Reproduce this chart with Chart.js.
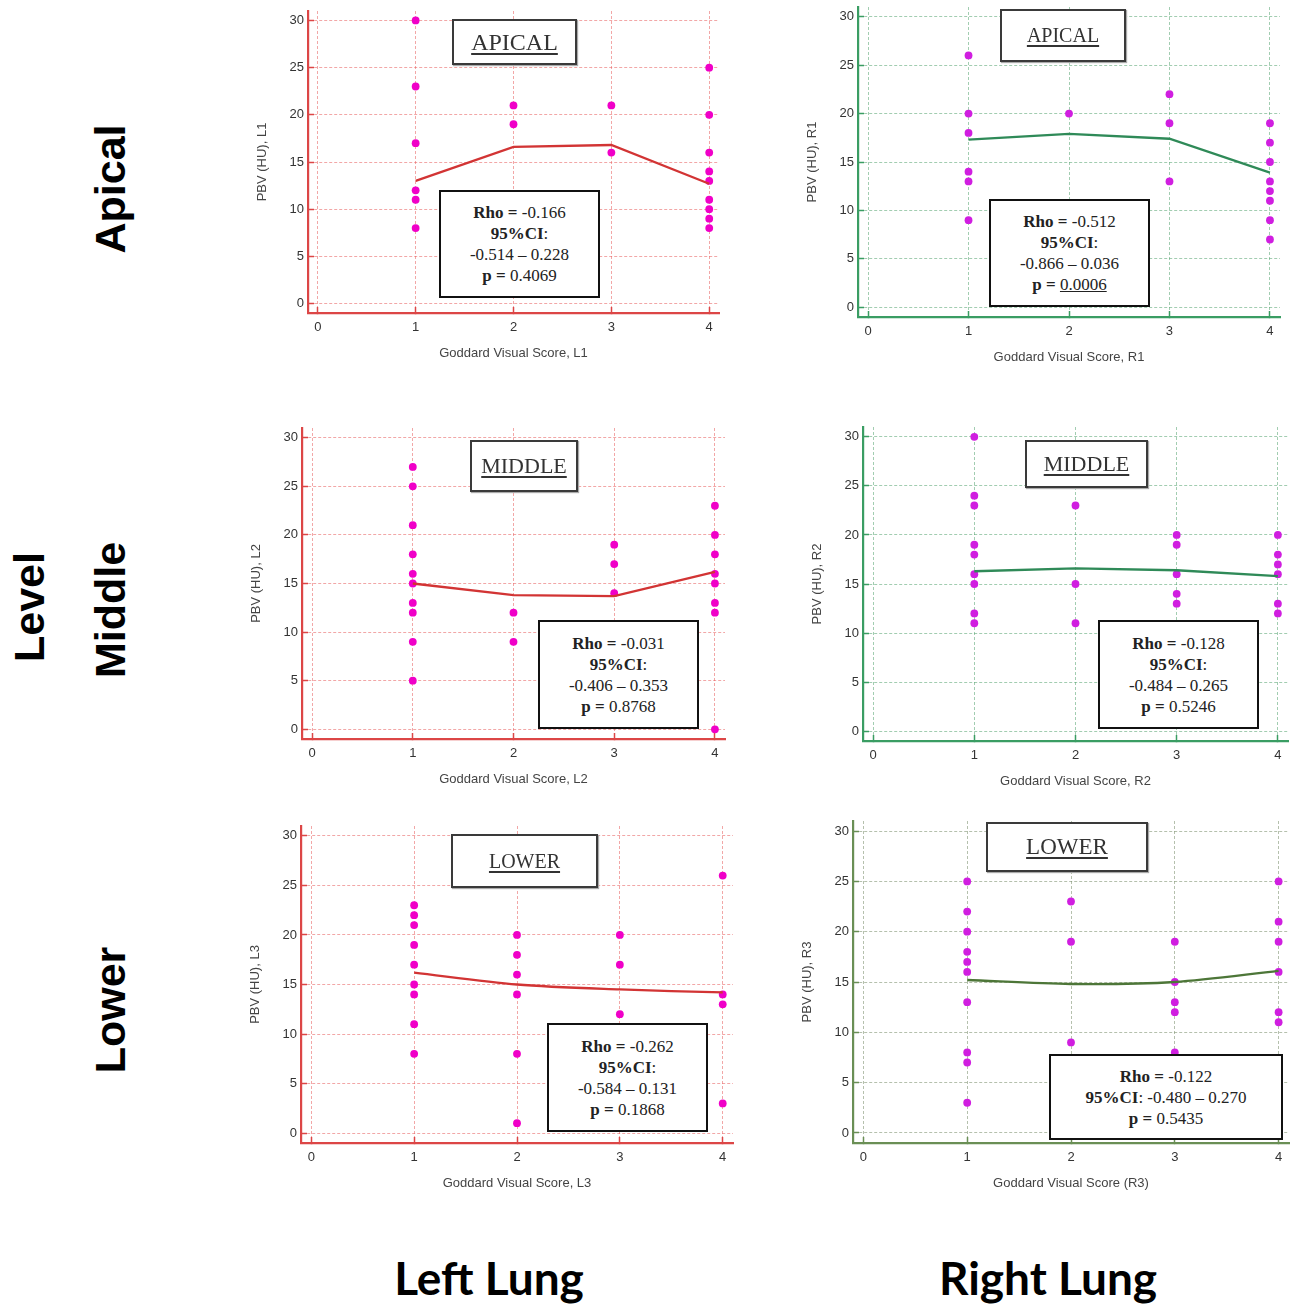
<!DOCTYPE html>
<html>
<head>
<meta charset="utf-8">
<title>PBV vs Goddard score</title>
<script src="https://cdn.jsdelivr.net/npm/chart.js@4.4.1/dist/chart.umd.min.js"></script>
<style>
    body { margin: 0; background: #fff; width: 1290px; height: 1305px; position: relative; overflow: hidden; }
    canvas { position: absolute; }
    .title-box {
        position: absolute; box-sizing: border-box; background: #fff;
        border: 2px solid #3a3a3a; box-shadow: 1px 1px 1px #aaa;
        font-family: 'Liberation Serif', 'Times New Roman', serif; color: #333;
        text-decoration: underline; text-underline-offset: 3px;
        display: flex; align-items: center; justify-content: center;
    }
    .stats-box {
        position: absolute; box-sizing: border-box; background: #fff;
        border: 2.5px solid #111;
        font-family: 'Liberation Serif', 'Times New Roman', serif; font-size: 17px; line-height: 21px; color: #222;
        display: flex; flex-direction: column; align-items: center; justify-content: center;
    }
    .side {
        position: absolute; font-family: 'Liberation Sans', Arial, sans-serif; font-weight: bold; font-size: 43px;
        white-space: nowrap; transform: translate(-50%, -50%) rotate(-90deg); color: #000;
    }
    .lung {
        position: absolute; font-family: Lato, 'Open Sans', sans-serif; font-weight: bold; font-size: 46px;
        white-space: nowrap; transform: translate(-50%, -50%); color: #000;
    }
</style>
</head>
<body>
<div class="side" style="left:110px; top:189px;">Apical</div>
<div class="side" style="left:110px; top:610px;">Middle</div>
<div class="side" style="left:110px; top:1010px;">Lower</div>
<div class="side" style="left:29px; top:607px;">Level</div>
<div class="lung" style="left:489px; top:1277px;">Left Lung</div>
<div class="lung" style="left:1048px; top:1277px;">Right Lung</div>

<script>
// Goddard score categories and axis ticks
const scores = [1, 2, 3, 4];
const xTicks = [0, 1, 2, 3, 4];
const yTicks = [0, 5, 10, 15, 20, 25, 30];

// PBV values per score (index 0 = score 1 ... index 3 = score 4)
const apicalLeft = [[30, 23, 17, 12, 11, 8], [21, 19], [21, 16], [25, 20, 16, 14, 13, 11, 10, 9, 8]];
const apicalLeftFit = [13.0, 16.6, 16.8, 12.7];
const apicalRight = [[26, 20, 18, 14, 13, 9], [20], [22, 19, 13], [19, 17, 15, 13, 12, 11, 9, 7]];
const apicalRightFit = [17.3, 17.9, 17.4, 13.9];

const middleLeft = [[27, 25, 21, 18, 16, 15, 13, 12, 9, 5], [12, 9], [19, 17, 14], [23, 20, 18, 16, 15, 13, 12, 0]];
const middleLeftFit = [15.0, 13.8, 13.7, 16.2];
const middleRight = [[30, 24, 23, 19, 18, 16, 15, 12, 11], [23, 15, 11], [20, 19, 16, 14, 13], [20, 18, 17, 16, 13, 12]];
const middleRightFit = [16.3, 16.6, 16.4, 15.8];

const lowerLeft = [[23, 22, 21, 19, 17, 15, 14, 11, 8], [20, 18, 16, 14, 8, 1], [20, 17, 12], [26, 14, 13, 3]];
const lowerLeftFit = [16.2, 15.0, 14.5, 14.2];
const lowerRight = [[25, 22, 20, 18, 17, 16, 13, 8, 7, 3], [23, 19, 9], [19, 15, 13, 12, 8], [25, 21, 19, 16, 12, 11]];
const lowerRightFit = [15.2, 14.8, 15.0, 16.1];

// rho, 95% CI, p
const apicalLeftStats = ['-0.166', '-0.514 \u2013 0.228', '0.4069'];
const apicalRightStats = ['-0.512', '-0.866 \u2013 0.036', '0.0006'];
const middleLeftStats = ['-0.031', '-0.406 \u2013 0.353', '0.8768'];
const middleRightStats = ['-0.128', '-0.484 \u2013 0.265', '0.5246'];
const lowerLeftStats = ['-0.262', '-0.584 \u2013 0.131', '0.1868'];
const lowerRightStats = ['-0.122', '-0.480 \u2013 0.270', '0.5435'];

const red = { axis: '#dc4646', grid: 'rgba(232, 95, 95, 0.55)', line: '#d23434', dot: '#f000c8' };
const green = { axis: '#3a9d63', grid: 'rgba(70, 155, 100, 0.5)', line: '#2f8a58', dot: '#d01ee0' };
const olive = { axis: '#6a8f55', grid: 'rgba(120, 140, 105, 0.55)', line: '#4d7638', dot: '#d01ee0' };

// x0/x4/y0/y30 = page pixel where those tick values sit
const panels = [
    { pts: apicalLeft, fit: apicalLeftFit, stats: apicalLeftStats, col: red, level: 'APICAL', titleSize: 24,
      xTitle: 'Goddard Visual Score, L1', yTitle: 'PBV (HU), L1',
      x0: 318, x4: 709, y30: 20, y0: 304, tbox: [452, 19, 577, 65], sbox: [439, 190, 600, 298] },
    { pts: apicalRight, fit: apicalRightFit, stats: apicalRightStats, col: green, level: 'APICAL', titleSize: 20, pUnderline: true,
      xTitle: 'Goddard Visual Score, R1', yTitle: 'PBV (HU), R1',
      x0: 868, x4: 1270, y30: 17, y0: 307, tbox: [1000, 9, 1126, 62], sbox: [989, 199, 1150, 307] },
    { pts: middleLeft, fit: middleLeftFit, stats: middleLeftStats, col: red, level: 'MIDDLE', titleSize: 22,
      xTitle: 'Goddard Visual Score, L2', yTitle: 'PBV (HU), L2',
      x0: 312, x4: 715, y30: 438, y0: 729, tbox: [470, 440, 578, 492], sbox: [538, 620, 699, 729] },
    { pts: middleRight, fit: middleRightFit, stats: middleRightStats, col: green, level: 'MIDDLE', titleSize: 22,
      xTitle: 'Goddard Visual Score, R2', yTitle: 'PBV (HU), R2',
      x0: 873, x4: 1278, y30: 437, y0: 731, tbox: [1025, 440, 1148, 488], sbox: [1098, 620, 1259, 729] },
    { pts: lowerLeft, fit: lowerLeftFit, stats: lowerLeftStats, col: red, level: 'LOWER', titleSize: 20, tension: 0.3,
      xTitle: 'Goddard Visual Score, L3', yTitle: 'PBV (HU), L3',
      x0: 311, x4: 723, y30: 836, y0: 1133, tbox: [451, 834, 598, 888], sbox: [547, 1023, 708, 1132] },
    { pts: lowerRight, fit: lowerRightFit, stats: lowerRightStats, col: olive, level: 'LOWER', titleSize: 23, tension: 0.3, inlineCI: true,
      xTitle: 'Goddard Visual Score (R3)', yTitle: 'PBV (HU), R3',
      x0: 863, x4: 1279, y30: 831, y0: 1133, tbox: [986, 822, 1148, 872], sbox: [1049, 1054, 1283, 1140] }
];

const tickFont = { family: "'Liberation Sans', Arial, sans-serif", size: 13 };
const padL = 53, padR = 10, padT = 8, padB = 48;

function noPadding(s) {
    s.paddingTop = 0; s.paddingBottom = 0; s.paddingLeft = 0; s.paddingRight = 0;
}

function drawPanel(p) {
    const u = (p.x4 - p.x0) / 4;
    const v = (p.y0 - p.y30) / 30;
    const left = Math.round(p.x0 - 0.1 * u), right = Math.round(p.x4 + 0.1 * u);
    const top = Math.round(p.y30 - v), bottom = Math.round(p.y0 + v);

    const canvas = document.createElement('canvas');
    canvas.width = right - left + padL + padR;
    canvas.height = bottom - top + padT + padB;
    canvas.style.left = (left - padL) + 'px';
    canvas.style.top = (top - padT) + 'px';
    document.body.appendChild(canvas);

    const dots = p.pts.flatMap((ys, i) => ys.map(y => ({ x: scores[i], y: y })));
    const trend = scores.map((s, i) => ({ x: s, y: p.fit[i] }));

    new Chart(canvas.getContext('2d'), {
        type: 'scatter',
        data: {
            datasets: [{
                data: trend,
                showLine: true,
                borderColor: p.col.line,
                borderWidth: 2.3,
                pointRadius: 0,
                tension: p.tension || 0,
                order: 0
            }, {
                data: dots,
                backgroundColor: p.col.dot,
                borderWidth: 0,
                pointRadius: 3.9,
                order: 1
            }]
        },
        options: {
            responsive: false,
            animation: false,
            layout: { padding: { top: padT, right: padR, left: 0, bottom: 0 } },
            plugins: { legend: { display: false }, tooltip: { enabled: false } },
            scales: {
                x: {
                    type: 'linear',
                    min: -0.1,
                    max: 4.1,
                    afterBuildTicks: s => { s.ticks = xTicks.map(t => ({ value: t })); },
                    afterFit: s => { s.height = padB; noPadding(s); },
                    grid: { color: p.col.grid, lineWidth: 1, tickLength: -6, tickColor: p.col.axis, tickWidth: 1.5 },
                    border: { color: p.col.axis, width: 2.2, dash: [3, 2] },
                    ticks: { color: '#333', font: tickFont, padding: 13, maxRotation: 0 },
                    title: { display: true, text: p.xTitle, color: '#444', font: tickFont, padding: 0 }
                },
                y: {
                    type: 'linear',
                    min: -1,
                    max: 31,
                    afterBuildTicks: s => { s.ticks = yTicks.map(t => ({ value: t })); },
                    afterFit: s => { s.width = padL; noPadding(s); },
                    grid: { color: p.col.grid, lineWidth: 1, tickLength: -6, tickColor: p.col.axis, tickWidth: 1.5 },
                    border: { color: p.col.axis, width: 2.2, dash: [3, 2] },
                    ticks: { color: '#333', font: tickFont, padding: 10 },
                    title: { display: true, text: p.yTitle, color: '#444', font: tickFont, padding: 0 }
                }
            }
        }
    });

    // level label box
    const tb = document.createElement('div');
    tb.className = 'title-box';
    tb.style.left = p.tbox[0] + 'px';
    tb.style.top = p.tbox[1] + 'px';
    tb.style.width = (p.tbox[2] - p.tbox[0]) + 'px';
    tb.style.height = (p.tbox[3] - p.tbox[1]) + 'px';
    tb.style.fontSize = p.titleSize + 'px';
    tb.textContent = p.level;
    document.body.appendChild(tb);

    // correlation box
    const sb = document.createElement('div');
    sb.className = 'stats-box';
    sb.style.left = p.sbox[0] + 'px';
    sb.style.top = p.sbox[1] + 'px';
    sb.style.width = (p.sbox[2] - p.sbox[0]) + 'px';
    sb.style.height = (p.sbox[3] - p.sbox[1]) + 'px';
    const pVal = p.pUnderline ? '<u>' + p.stats[2] + '</u>' : p.stats[2];
    let html = '<div><b>Rho =</b> ' + p.stats[0] + '</div>';
    if (p.inlineCI) {
        html += '<div><b>95%CI</b>: ' + p.stats[1] + '</div>';
    } else {
        html += '<div><b>95%CI</b>:</div><div>' + p.stats[1] + '</div>';
    }
    html += '<div><b>p =</b> ' + pVal + '</div>';
    sb.innerHTML = html;
    document.body.appendChild(sb);
}

panels.forEach(drawPanel);
</script>
</body>
</html>
